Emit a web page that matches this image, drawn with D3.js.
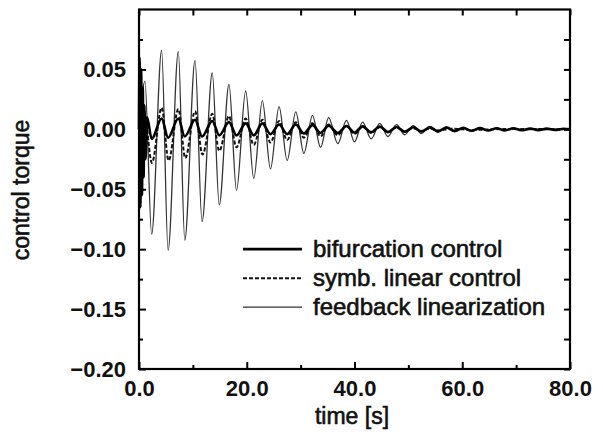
<!DOCTYPE html>
<meta charset="utf-8">
<style>
body { margin: 0; background: #fff; }
text { font-family: "Liberation Sans", Arial, sans-serif; fill: #111; }
.tick text { font: bold 22px "Liberation Sans", Arial, sans-serif; }
.label { stroke: #111; stroke-width: 0.6px; }
.domain { display: none; }
</style>
<svg width="603" height="434"></svg>
<script src="https://d3js.org/d3.v7.min.js"></script>
<script>

// extrema: [time s, torque]
var feedbackLin = [
  [0, 0.0], [1.1, 0.04], [2.35, -0.0875], [4.2, 0.066], [5.4, -0.101], [7.3, 0.065],
  [8.5, -0.0925], [10.4, 0.0575], [11.7, -0.077], [13.6, 0.047], [14.9, -0.063],
  [16.7, 0.0375], [18.1, -0.051], [19.8, 0.032], [21.3, -0.041], [22.9, 0.024],
  [24.4, -0.033], [26.0, 0.019], [27.5, -0.026], [29.1, 0.0145], [30.6, -0.020],
  [32.2, 0.0117], [33.7, -0.015], [35.2, 0.0097], [36.9, -0.012], [38.5, 0.0075],
  [40.0, -0.0105], [41.5, 0.006], [43.1, -0.008], [44.7, 0.005], [46.2, -0.006],
  [47.8, 0.004], [49.3, -0.0045], [50.9, 0.003], [52.4, -0.0035], [54.0, 0.0025],
  [55.5, -0.0025], [57.1, 0.002], [58.6, -0.002], [60.2, 0.0015], [61.7, -0.0015],
  [63.3, 0.001], [64.8, -0.001], [66.4, 0.0008], [67.9, -0.0008], [69.5, 0.0005],
  [72, -0.0005], [75, 0.0003], [80, 0.0]
];

var symbLinear = [
  [0, 0.0], [0.5, -0.03], [1.0, 0.012], [2.4, -0.028], [4.2, 0.018], [5.5, -0.026],
  [7.3, 0.017], [8.6, -0.024], [10.4, 0.015], [11.8, -0.021], [13.6, 0.013],
  [14.9, -0.018], [16.7, 0.011], [18.1, -0.015], [19.8, 0.009], [21.3, -0.013],
  [22.9, 0.008], [24.4, -0.011], [26.0, 0.007], [27.5, -0.009], [29.1, 0.006],
  [30.6, -0.007], [32.2, 0.005], [33.7, -0.006], [35.2, 0.004], [36.9, -0.005],
  [38.5, 0.003], [40.0, -0.004], [41.5, 0.0025], [43.1, -0.003], [44.7, 0.002],
  [46.2, -0.0025], [47.8, 0.0015], [49.3, -0.002], [50.9, 0.001], [52.4, -0.0015],
  [54.0, 0.0008], [55.5, -0.001], [58, 0.0005], [62, -0.0005], [68, 0.0003], [80, 0.0]
];

var bifurcation = [
  [0, 0.0], [0.1, 0.06], [0.25, -0.065], [0.4, 0.05], [0.55, -0.055], [0.7, 0.035],
  [0.85, -0.04], [1.0, 0.02], [1.2, -0.025], [1.5, 0.01], [2.35, -0.008], [4.2, 0.009],
  [5.4, -0.007], [7.3, 0.009], [8.5, -0.006], [10.4, 0.008], [11.7, -0.006],
  [13.6, 0.007], [14.9, -0.005], [16.7, 0.006], [18.1, -0.005], [19.8, 0.005],
  [21.3, -0.005], [22.9, 0.005], [24.4, -0.004], [26.0, 0.004], [27.5, -0.004],
  [29.1, 0.004], [30.6, -0.0035], [32.2, 0.0035], [33.7, -0.003], [35.2, 0.003],
  [36.9, -0.003], [38.5, 0.0028], [40.0, -0.0027], [41.5, 0.0025], [43.1, -0.0025],
  [44.7, 0.0023], [46.2, -0.0022], [47.8, 0.002], [49.3, -0.002], [50.9, 0.0018],
  [52.4, -0.0018], [54.0, 0.0016], [55.5, -0.0016], [57.1, 0.0014], [58.6, -0.0014],
  [60.2, 0.0012], [61.7, -0.0012], [63.3, 0.001], [64.8, -0.001], [66.4, 0.0009],
  [67.9, -0.0009], [69.5, 0.0008], [71.0, -0.0008], [72.6, 0.0007], [74.1, -0.0007],
  [75.7, 0.0006], [77.2, -0.0006], [78.8, 0.0005], [80, 0.0]
];

var xTicks = [0, 20, 40, 60, 80];
var xMinor = [10, 30, 50, 70];
var yTicks = [-0.20, -0.15, -0.10, -0.05, 0.00, 0.05];
var yMinor = [-0.175, -0.125, -0.075, -0.025, 0.025, 0.075];
var legendNames = ["bifurcation control", "symb. linear control", "feedback linearization"];

var svg = d3.select("svg");
var mLeft = 139, mRight = 570, mTop = 9.5, mBottom = 369;

var x = d3.scaleLinear().domain([0, 80]).range([mLeft, mRight]);
var y = d3.scaleLinear().domain([-0.2, 0.1]).range([mBottom, mTop]);

var line = d3.line()
  .x(function(d) { return x(d[0]); })
  .y(function(d) { return y(d[1]); })
  .curve(d3.curveMonotoneX);

var plot = svg.append("g");

plot.append("path").datum(feedbackLin)
  .attr("d", line).attr("fill", "none")
  .attr("stroke", "#333").attr("stroke-width", 1.3);

plot.append("path").datum(symbLinear)
  .attr("d", line).attr("fill", "none")
  .attr("stroke", "#111").attr("stroke-width", 2)
  .attr("stroke-dasharray", "4,2");

plot.append("path").datum(bifurcation)
  .attr("d", line).attr("fill", "none")
  .attr("stroke", "#000").attr("stroke-width", 2.6);

// axes: ticks point inwards on all four sides
svg.append("g").attr("transform", "translate(0," + mBottom + ")")
  .call(d3.axisBottom(x).tickValues(xTicks).tickSize(-7).tickPadding(11)
    .tickFormat(d3.format(".1f")));
svg.append("g").attr("transform", "translate(0," + mBottom + ")")
  .call(d3.axisBottom(x).tickValues(xMinor).tickSize(-4).tickFormat(""));
svg.append("g").attr("transform", "translate(0," + mTop + ")")
  .call(d3.axisTop(x).tickValues(xTicks.concat(xMinor)).tickSize(-6).tickFormat(""));

svg.append("g").attr("transform", "translate(" + mLeft + ",0)")
  .call(d3.axisLeft(y).tickValues(yTicks).tickSize(-7).tickPadding(13)
    .tickFormat(d3.format(".2f")));
svg.append("g").attr("transform", "translate(" + mLeft + ",0)")
  .call(d3.axisLeft(y).tickValues(yMinor).tickSize(-4).tickFormat(""));
svg.append("g").attr("transform", "translate(" + mRight + ",0)")
  .call(d3.axisRight(y).tickValues(yTicks.concat(yMinor)).tickSize(-6).tickFormat(""));

svg.selectAll(".tick line").attr("stroke", "#000").attr("stroke-width", 2);
svg.selectAll(".tick text").attr("fill", "#111");

svg.append("rect")
  .attr("x", mLeft).attr("y", mTop)
  .attr("width", mRight - mLeft).attr("height", mBottom - mTop)
  .attr("fill", "none").attr("stroke", "#000").attr("stroke-width", 2.2);

// legend
var legStyles = [
  { w: 2.6, dash: null, c: "#000" },
  { w: 2, dash: "4,2", c: "#111" },
  { w: 1.3, dash: null, c: "#333" }
];
var leg = svg.append("g");
legendNames.forEach(function(name, i) {
  var yy = y(-0.10) + i * 29;
  leg.append("line")
    .attr("x1", 243).attr("x2", 302).attr("y1", yy).attr("y2", yy)
    .attr("stroke", legStyles[i].c).attr("stroke-width", legStyles[i].w)
    .attr("stroke-dasharray", legStyles[i].dash);
  leg.append("text")
    .attr("class", "label")
    .attr("x", 313).attr("y", yy + 8)
    .style("font-size", "24px")
    .text(name);
});

// axis titles
svg.append("text")
  .attr("class", "label")
  .attr("x", 352).attr("y", 424)
  .attr("text-anchor", "middle")
  .style("font-size", "23px")
  .text("time [s]");

svg.append("text")
  .attr("class", "label")
  .attr("transform", "translate(29,190) rotate(-90)")
  .attr("text-anchor", "middle")
  .style("font-size", "23px")
  .text("control torque");

</script>
